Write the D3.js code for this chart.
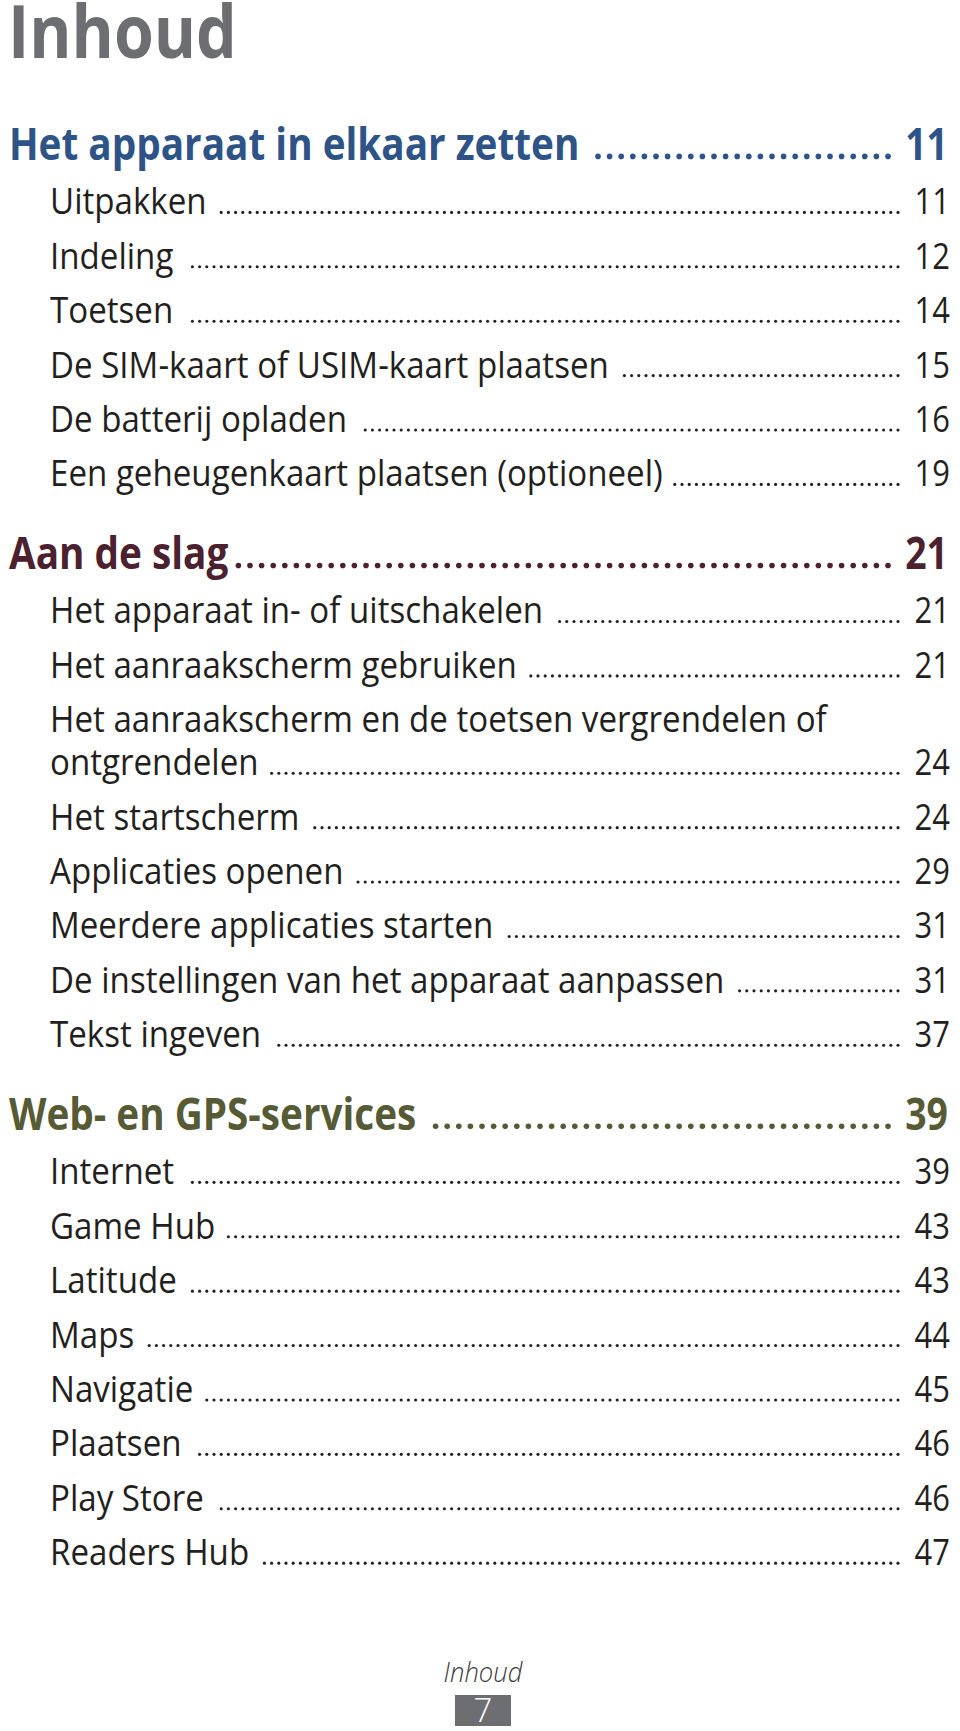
<!DOCTYPE html>
<html>
<head>
<meta charset="utf-8">
<script src="https://cdn.jsdelivr.net/npm/d3@7/dist/d3.min.js"></script>
<style>
  html, body { margin: 0; padding: 0; background: #ffffff; }
  svg { display: block; }
</style>
</head>
<body>
<svg id="page" width="960" height="1731"></svg>
<script>
// ---------- data ----------
const pageTitle = "Inhoud";
const sections = ["Het apparaat in elkaar zetten", "Aan de slag", "Web- en GPS-services"];
const sectionPages = [11, 21, 39];
const entries = [
  "Uitpakken", "Indeling", "Toetsen", "De SIM-kaart of USIM-kaart plaatsen",
  "De batterij opladen", "Een geheugenkaart plaatsen (optioneel)",
  "Het apparaat in- of uitschakelen", "Het aanraakscherm gebruiken",
  "Het aanraakscherm en de toetsen vergrendelen of\nontgrendelen",
  "Het startscherm", "Applicaties openen", "Meerdere applicaties starten",
  "De instellingen van het apparaat aanpassen", "Tekst ingeven",
  "Internet", "Game Hub", "Latitude", "Maps", "Navigatie", "Plaatsen",
  "Play Store", "Readers Hub"
];
const entryPages = [11, 12, 14, 15, 16, 19, 21, 21, 24, 24, 29, 31, 31, 37, 39, 43, 43, 44, 45, 46, 46, 47];
const entrySection = [0,0,0,0,0,0, 1,1,1,1,1,1,1,1, 2,2,2,2,2,2,2,2];
const footerLabel = "Inhoud";
const footerPage = 7;

// ---------- styles ----------
const FONT = "'Open Sans', 'Noto Sans', sans-serif";
const sectionColors = ["#2e5487", "#4b2130", "#565a35"];
const textColor = "#231f20";
const grey = "#6d6e71";

// ---------- layout ----------
const svg = d3.select("#page");
const rowUnits = { sub: 1, wrap: 0.79, sectionGap: 1.52 };
const y = d3.scaleLinear().domain([0, 1]).range([160, 214.4]);

const rows = [];
let pos = 0;
sections.forEach((s, si) => {
  if (si > 0) pos += rowUnits.sectionGap;
  rows.push({ kind: "h", text: s, page: sectionPages[si], sec: si, pos });
  entries.forEach((e, ei) => {
    if (entrySection[ei] !== si) return;
    const lines = e.split("\n");
    lines.forEach((ln, j) => {
      pos += j === 0 ? rowUnits.sub : rowUnits.wrap;
      rows.push({ kind: "s", text: ln, page: j === lines.length - 1 ? entryPages[ei] : null, sec: si, pos });
    });
  });
});

const style = {
  h: { x: 9, size: 44, weight: 700, cx: 0.88, dotEnd: 888, dotStep: 11.6, r: 2.8, dy: 3.6, gap: 9, numEnd: 948, numCx: 0.85 },
  s: { x: 50, size: 36, weight: 400, cx: 0.92, dotEnd: 898, dotStep: 7.2, r: 1.55, dy: 2.0, gap: 12, numEnd: 950, numCx: 0.86 }
};

// title
svg.append("text")
  .attr("transform", "translate(8,58) scale(0.87,1)")
  .attr("font-family", FONT).attr("font-weight", 700).attr("font-size", 74)
  .attr("fill", grey).text(pageTitle);

const g = svg.append("g");
const rowG = g.selectAll("g.row").data(rows).join("g").attr("class", "row");

rowG.each(function (d) {
  const st = style[d.kind];
  const col = d.kind === "h" ? sectionColors[d.sec] : textColor;
  const by = y(d.pos);
  const sel = d3.select(this);
  const t = sel.append("text")
    .attr("transform", `translate(${st.x},${by}) scale(${st.cx},1)`)
    .attr("font-family", FONT).attr("font-weight", st.weight).attr("font-size", st.size)
    .attr("fill", col).text(d.text);
  if (d.page == null) return;
  const endX = st.x + t.node().getComputedTextLength() * st.cx;
  const start = endX + st.gap;
  const n = Math.floor((st.dotEnd - start) / st.dotStep) + 1;
  const dots = d3.range(n).map(k => st.dotEnd - k * st.dotStep);
  sel.selectAll("circle").data(dots).join("circle")
    .attr("cx", v => v).attr("cy", by - st.dy).attr("r", st.r).attr("fill", col);
  sel.append("text")
    .attr("transform", `translate(${st.numEnd},${by}) scale(${st.numCx},1)`)
    .attr("text-anchor", "end")
    .attr("font-family", FONT).attr("font-weight", st.weight).attr("font-size", st.size)
    .attr("fill", col).text(d.page);
});

// footer
svg.append("text")
  .attr("transform", "translate(483,1682) scale(0.95,1)")
  .attr("text-anchor", "middle")
  .attr("font-family", FONT).attr("font-style", "italic").attr("font-weight", 300)
  .attr("font-size", 27).attr("fill", "#3b3b3b").text(footerLabel);
svg.append("rect").attr("x", 455).attr("y", 1695).attr("width", 56).attr("height", 31).attr("fill", grey);
svg.append("text")
  .attr("x", 483).attr("y", 1722).attr("text-anchor", "middle")
  .attr("font-family", FONT).attr("font-weight", 300).attr("font-size", 33)
  .attr("fill", "#ffffff").text(footerPage);
</script>
</body>
</html>
